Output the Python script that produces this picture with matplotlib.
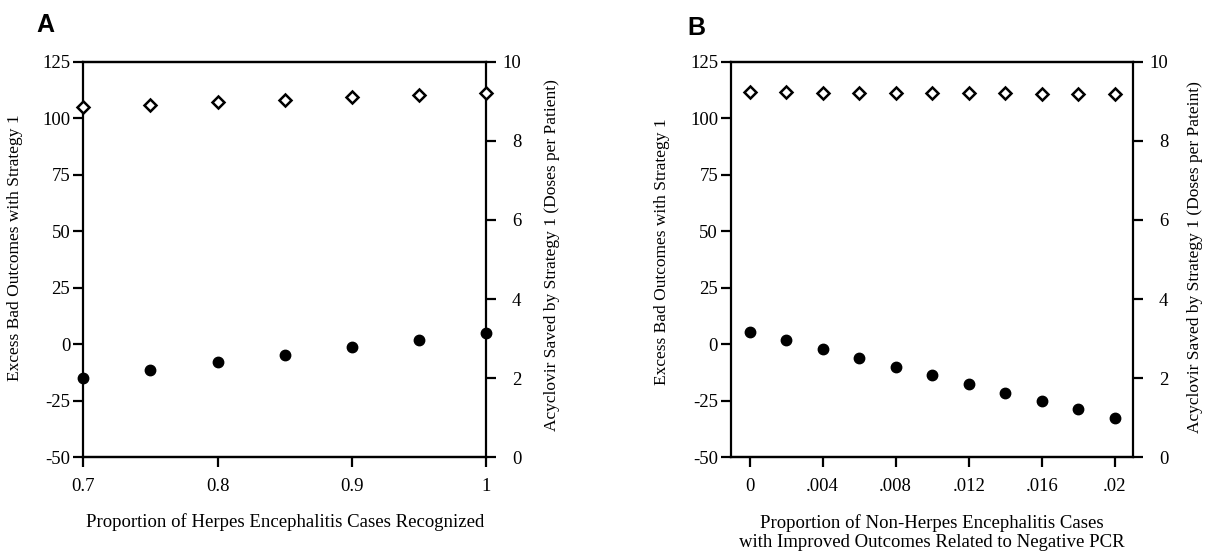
import matplotlib
matplotlib.use("Agg")
import matplotlib.pyplot as plt

# Panel A data: proportion of herpes encephalitis cases recognized
a_x = [0.70, 0.75, 0.80, 0.85, 0.90, 0.95, 1.00]
a_bad = [-14.9, -11.4, -8.0, -4.6, -1.2, 2.1, 5.2]          # left axis
a_doses = [8.85, 8.91, 8.97, 9.04, 9.10, 9.15, 9.22]       # right axis

# Panel B data: proportion of non-herpes cases with improved outcomes
b_x = [0.000, 0.002, 0.004, 0.006, 0.008, 0.010, 0.012, 0.014, 0.016, 0.018, 0.020]
b_bad = [5.6, 1.8, -2.2, -6.2, -10.0, -13.8, -17.6, -21.5, -25.0, -28.8, -32.6]
b_doses = [9.23, 9.23, 9.22, 9.22, 9.21, 9.21, 9.20, 9.20, 9.19, 9.19, 9.18]

left_ticks = [-50, -25, 0, 25, 50, 75, 100, 125]
right_ticks = [0, 2, 4, 6, 8, 10]
a_ticks = [0.7, 0.8, 0.9, 1.0]
a_ticklabels = ["0.7", "0.8", "0.9", "1"]
b_ticks = [0, 0.004, 0.008, 0.012, 0.016, 0.02]
b_ticklabels = ["0", ".004", ".008", ".012", ".016", ".02"]

plt.rcParams['font.family'] = ['Liberation Serif', 'DejaVu Serif']
FS = 13.5      # horizontal texts
FS_V = 12.5    # rotated axis labels
LW = 1.6

fig = plt.figure(figsize=(12.05, 5.52), dpi=100)


def make_panel(rect, x, bad, doses, xlim, xticks, xticklabels, xlabel, rlabel,
               xlabel_y, lpos, rpos):
    ax = fig.add_axes(rect)
    ax2 = ax.twinx()

    ax.plot(x, bad, 'o', color='black', ms=7.5, clip_on=False, zorder=5)
    ax2.plot(x, doses, 'D', mfc='white', mec='black', mew=1.8, ms=5.8,
             clip_on=False, zorder=5)

    ax.set_xlim(*xlim)
    ax.set_ylim(-50, 125)
    ax2.set_ylim(0, 10)
    ax.set_yticks(left_ticks)
    ax.set_yticklabels([str(t) for t in left_ticks])
    ax2.set_yticks(right_ticks)
    ax.set_xticks(xticks)
    ax.set_xticklabels(xticklabels)

    for a in (ax, ax2):
        for s in a.spines.values():
            s.set_linewidth(LW)
        a.tick_params(labelsize=FS, width=LW, length=7, direction='out')
    ax.spines['right'].set_visible(False)
    ax2.spines['left'].set_visible(False)
    ax.tick_params(axis='y', pad=2.5)
    ax.tick_params(axis='x', pad=8)
    ax2.tick_params(axis='y', pad=18.5)
    for lbl in ax2.get_yticklabels():
        lbl.set_horizontalalignment('right')

    ax.set_xlabel(xlabel, fontsize=FS, va='center', linespacing=1.15)
    ax.xaxis.set_label_coords(0.5, xlabel_y)
    ax.set_ylabel("Excess Bad Outcomes with Strategy 1", fontsize=FS_V, va='center')
    ax.yaxis.set_label_coords(lpos[0], lpos[1])
    ax2.set_ylabel(rlabel, fontsize=FS_V, va='center')
    ax2.yaxis.set_label_coords(rpos[0], rpos[1])
    return ax


make_panel([0.0692, 0.1716, 0.3341, 0.7166], a_x, a_bad, a_doses,
           (0.7, 1.0), a_ticks, a_ticklabels,
           "Proportion of Herpes Encephalitis Cases Recognized",
           "Acyclovir Saved by Strategy 1 (Doses per Patient)",
           -0.165, (-0.169, 0.53), (1.164, 0.51))

make_panel([0.6069, 0.1716, 0.3334, 0.7166], b_x, b_bad, b_doses,
           (-0.001, 0.021), b_ticks, b_ticklabels,
           "Proportion of Non-Herpes Encephalitis Cases\nwith Improved Outcomes Related to Negative PCR",
           "Acyclovir Saved by Strategy 1 (Doses per Pateint)",
           -0.19, (-0.172, 0.52), (1.154, 0.505))

fig.text(0.038, 0.955, "A", fontsize=18, fontweight='bold', family='Liberation Sans',
         ha='center', va='center')
fig.text(0.5776, 0.949, "B", fontsize=18, fontweight='bold', family='Liberation Sans',
         ha='center', va='center')

fig.savefig("out.png", dpi=100)
